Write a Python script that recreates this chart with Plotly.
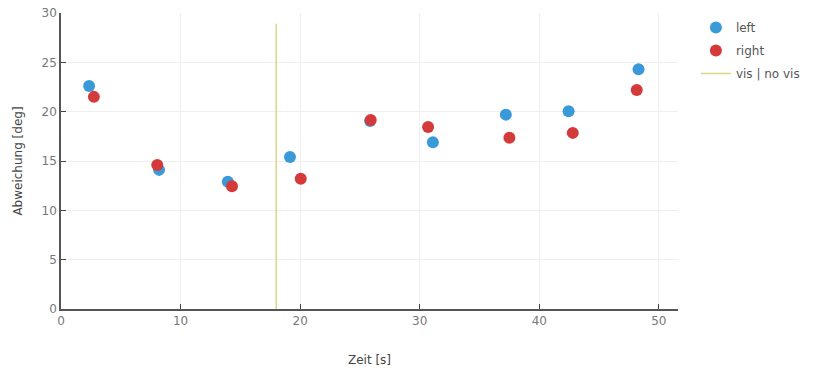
import plotly.graph_objects as go

time_left = [2.35, 8.2, 13.95, 19.15, 25.85, 31.1, 37.2, 42.45, 48.3]
dev_left = [22.6, 14.1, 12.9, 15.4, 19.05, 16.9, 19.7, 20.05, 24.3]
time_right = [2.75, 8.05, 14.3, 20.05, 25.9, 30.7, 37.5, 42.8, 48.15]
dev_right = [21.5, 14.6, 12.45, 13.2, 19.15, 18.45, 17.35, 17.85, 22.2]
vis_x = [18, 18]
vis_y = [0, 28.9]

fig = go.Figure()
fig.add_trace(go.Scatter(x=time_left, y=dev_left, mode="markers", name="left", legendgroup="a",
                         marker=dict(color="#3a9ad9", size=12)))
fig.add_trace(go.Scatter(x=time_right, y=dev_right, mode="markers", name="right", legendgroup="b",
                         marker=dict(color="#d43a3a", size=12)))
fig.add_trace(go.Scatter(x=vis_x, y=vis_y, mode="lines", name="vis | no vis", legendgroup="c",
                         line=dict(color="#ddd98c", width=1.6)))

axis_common = dict(showline=True, linecolor="#555", linewidth=1.5, ticks="inside",
                   ticklen=5, tickcolor="#444", showgrid=True, gridcolor="#eeeeee",
                   zeroline=False, automargin=False, ticklabeloverflow="allow",
                   tickfont=dict(size=12, color="#777"),
                   title_font=dict(size=12, color="#444"))

fig.update_layout(
    width=819, height=374,
    margin=dict(l=61, r=141, t=13, b=65, autoexpand=False),
    paper_bgcolor="white", plot_bgcolor="white",
    font=dict(family="DejaVu Sans", color="#555"),
    xaxis=dict(range=[0, 51.6], dtick=10, title_text="Zeit [s]", title_standoff=28, **axis_common),
    yaxis=dict(range=[0, 30], dtick=5, title_text="Abweichung [deg]", title_standoff=16, **axis_common),
    legend=dict(x=1.029, y=1.0, xanchor="left", yanchor="top", traceorder="grouped",
                tracegroupgap=4, font=dict(size=12, color="#555")),
)

fig.write_html("out.html", config={"displayModeBar": False},
               post_script="document.body.style.margin='0';")
